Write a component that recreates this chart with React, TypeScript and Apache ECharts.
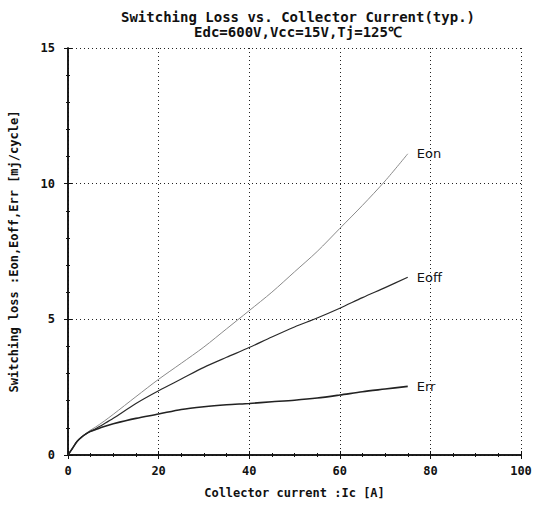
import React, { useEffect, useRef } from "react";
import * as echarts from "echarts";

const current = [0, 1, 2, 3, 4, 5, 6, 8, 10, 15, 20, 25, 30, 35, 40, 45, 50, 55, 60, 65, 70, 75];
const eon = [0, 0.25, 0.5, 0.66, 0.8, 0.92, 1.02, 1.25, 1.5, 2.15, 2.79, 3.38, 3.98, 4.65, 5.32, 6.0, 6.75, 7.5, 8.35, 9.2, 10.1, 11.1];
const eoff = [0, 0.25, 0.5, 0.66, 0.78, 0.88, 0.96, 1.15, 1.35, 1.9, 2.37, 2.8, 3.23, 3.6, 3.96, 4.35, 4.72, 5.05, 5.41, 5.8, 6.17, 6.55];
const err = [0, 0.25, 0.5, 0.66, 0.78, 0.87, 0.93, 1.05, 1.15, 1.35, 1.51, 1.68, 1.78, 1.85, 1.9, 1.96, 2.02, 2.1, 2.21, 2.33, 2.43, 2.53];

const titleLines = ["Switching Loss vs. Collector Current(typ.)", "Edc=600V,Vcc=15V,Tj=125\u2103"];
const xName = "Collector current :Ic [A]";
const yName = "Switching loss :Eon,Eoff,Err [mj/cycle]";

const mono = "'DejaVu Sans Mono', 'Liberation Mono', monospace";

export default function App() {
  const ref = useRef<HTMLDivElement>(null);
  useEffect(() => {
    if (!ref.current) return;
    const chart = echarts.init(ref.current, undefined, { renderer: "svg" });
    const pair = (ys: number[]) => current.map((x, i) => [x, ys[i]]);
    const mkSeries = (name: string, ys: number[], color: string, width: number) => ({
      type: "line",
      name,
      data: pair(ys),
      smooth: 0.3,
      showSymbol: false,
      symbol: "none",
      lineStyle: { color, width },
      endLabel: {
        show: true,
        formatter: name,
        distance: 9,
        color: "#111",
        fontSize: 13,
        fontFamily: "'DejaVu Sans', sans-serif",
      },
    });
    const boxAxisLine = { show: true, lineStyle: { color: "#111", width: 1.5 } };
    chart.setOption({
      animation: false,
      backgroundColor: "#fff",
      title: {
        text: titleLines.join("\n"),
        left: 293,
        textAlign: "center",
        top: 4,
        textStyle: { fontFamily: mono, fontWeight: "bold", fontSize: 14, lineHeight: 15, color: "#111" },
      },
      grid: { left: 66, top: 48, right: 26, bottom: 58 },
      xAxis: [
        {
          type: "value",
          min: 0,
          max: 100,
          interval: 20,
          name: xName,
          nameLocation: "middle",
          nameGap: 32,
          nameTextStyle: { fontFamily: mono, fontWeight: "bold", fontSize: 12, color: "#111" },
          axisLine: boxAxisLine,
          axisTick: { show: true, inside: true, length: 4, lineStyle: { color: "#111" } },
          minorTick: { show: true, splitNumber: 4, length: 2, lineStyle: { color: "#111" } },
          axisLabel: { fontFamily: mono, fontWeight: "bold", fontSize: 12, color: "#111", margin: 10 },
          splitLine: { show: true, lineStyle: { color: "#222", type: [1, 3], width: 1 } },
        },
        {
          type: "value",
          position: "top",
          min: 0,
          max: 100,
          interval: 20,
          axisLine: boxAxisLine,
          axisTick: { show: true, inside: true, length: 4, lineStyle: { color: "#111" } },
          minorTick: { show: true, splitNumber: 4, length: 2, lineStyle: { color: "#111" } },
          axisLabel: { show: false },
          splitLine: { show: false },
        },
      ],
      yAxis: [
        {
          type: "value",
          min: 0,
          max: 15,
          interval: 5,
          name: yName,
          nameLocation: "middle",
          nameGap: 48,
          nameTextStyle: { fontFamily: mono, fontWeight: "bold", fontSize: 12, color: "#111" },
          axisLine: boxAxisLine,
          axisTick: { show: true, inside: true, length: 4, lineStyle: { color: "#111" } },
          minorTick: { show: true, splitNumber: 5, length: 2, lineStyle: { color: "#111" } },
          axisLabel: { fontFamily: mono, fontWeight: "bold", fontSize: 12, color: "#111", margin: 13 },
          splitLine: { show: true, lineStyle: { color: "#222", type: [1, 3], width: 1 } },
        },
        {
          type: "value",
          position: "right",
          min: 0,
          max: 15,
          interval: 5,
          axisLine: boxAxisLine,
          axisTick: { show: true, inside: true, length: 4, lineStyle: { color: "#111" } },
          minorTick: { show: true, splitNumber: 5, length: 2, lineStyle: { color: "#111" } },
          axisLabel: { show: false },
          splitLine: { show: false },
        },
      ],
      series: [
        mkSeries("Eon", eon, "#8a8a8a", 1),
        mkSeries("Eoff", eoff, "#2a2a2a", 1.2),
        mkSeries("Err", err, "#222", 1.6),
      ],
    });
    return () => chart.dispose();
  }, []);
  return <div ref={ref} style={{ width: 547, height: 513, position: "absolute", left: 0, top: 0 }} />;
}
